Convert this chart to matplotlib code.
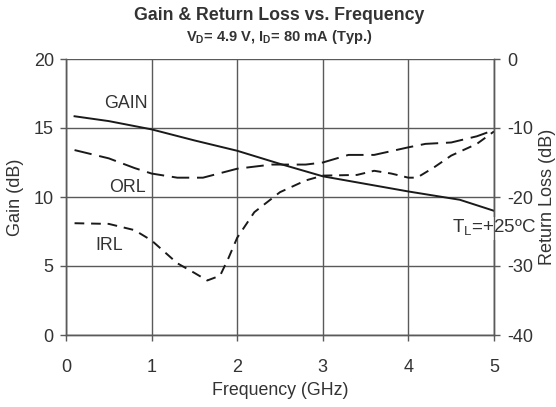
import matplotlib
matplotlib.use("Agg")
import matplotlib.pyplot as plt
import numpy as np

plt.rcParams['font.family'] = ['Liberation Sans', 'DejaVu Sans']
plt.rcParams['axes.unicode_minus'] = False

# Gain (dB), left axis
gain_f = [0.1, 0.5, 1.0, 1.5, 2.0, 2.5, 3.0, 3.5, 4.0, 4.3, 4.6, 5.0]
gain_db = [15.85, 15.5, 14.9, 14.1, 13.35, 12.4, 11.5, 10.95, 10.4, 10.1, 9.8, 9.0]

# Output return loss (dB), right axis
orl_f = [0.1, 0.5, 0.8, 1.0, 1.3, 1.6, 2.0, 2.4, 2.8, 3.0, 3.3, 3.6, 4.0, 4.2, 4.5, 4.8, 5.0]
orl_db = [-13.2, -14.4, -15.8, -16.6, -17.2, -17.2, -15.9, -15.3, -15.3, -15.0, -13.9, -13.9, -12.8, -12.3, -12.1, -11.2, -10.3]

# Input return loss (dB), right axis
irl_f = [0.1, 0.5, 0.8, 1.0, 1.3, 1.5, 1.65, 1.8, 1.9, 2.0, 2.2, 2.5, 2.8, 3.0, 3.4, 3.6, 3.8, 4.0, 4.1, 4.3, 4.5, 4.8, 5.0]
irl_db = [-23.8, -23.9, -24.8, -26.3, -29.6, -31.0, -32.1, -31.4, -28.8, -25.9, -22.2, -19.3, -17.6, -16.9, -16.8, -16.2, -16.6, -17.2, -17.2, -15.7, -14.0, -12.3, -10.5]

xticks = [0, 1, 2, 3, 4, 5]
gain_ticks = [0, 5, 10, 15, 20]
rl_ticks = [-40, -30, -20, -10, 0]

fig = plt.figure(figsize=(5.56, 4.07), dpi=100)
ax = fig.add_axes([66/556, 1-335/407, (494-66)/556, (335-59)/407])
ax2 = ax.twinx()

tc = '#333333'
gc = '#5a5a5a'

ax.set_xlim(0, 5)
ax.set_ylim(0, 20)
ax2.set_ylim(-40, 0)
ax.set_xticks(xticks)
ax.set_yticks(gain_ticks)
ax2.set_yticks(rl_ticks)
ax.grid(True, color=gc, lw=1.0)
ax.set_axisbelow(True)

for a in (ax, ax2):
    for s in a.spines.values():
        s.set_color(gc)
        s.set_linewidth(1.0)
    a.spines['top'].set_visible(False)
    a.tick_params(colors=gc, labelcolor=tc, labelsize=13, length=4.3, width=1.0, direction='out')
ax.tick_params(axis='x', pad=13)
ax.tick_params(axis='y', pad=4.5)
ax2.tick_params(axis='y', pad=5.5)

ax.plot(gain_f, gain_db, color='#1a1a1a', lw=1.4, ls='-')
ax2.plot(orl_f, orl_db, color='#1a1a1a', lw=1.4, ls=(0, (9, 4)))
ax2.plot(irl_f, irl_db, color='#1a1a1a', lw=1.4, ls=(0, (5, 3.5)))

ax.set_xlabel('Frequency (GHz)', fontsize=12.8, color=tc, labelpad=4)
ax.set_ylabel('Gain (dB)', fontsize=13, color=tc, labelpad=7)
ax2.set_ylabel('Return Loss (dB)', fontsize=13, color=tc, labelpad=4)

lab = dict(fontsize=12.8, color=tc, ha='center', va='center')
ax.text(0.7, 16.75, 'GAIN', **lab)
ax.text(0.72, 10.7, 'ORL', **lab)
ax.text(0.51, 6.5, 'IRL', **lab)
ax.text(5.0, 7.75, r'T$_{\mathregular{L}}$=+25ºC', fontsize=13.5, color=tc, ha='center', va='center',
        bbox=dict(facecolor='white', edgecolor='none', pad=1), zorder=10)

fig.text(279/556, 1-16/407, 'Gain & Return Loss vs. Frequency', fontsize=12.8, fontweight='bold',
         color=tc, ha='center', va='center')
fig.text(279/556, 1-37/407, r'V$_{\mathregular{D}}$= 4.9 V, I$_{\mathregular{D}}$= 80 mA (Typ.)',
         fontsize=10.5, fontweight='bold', color=tc, ha='center', va='center')

fig.savefig('out.png', dpi=100)
